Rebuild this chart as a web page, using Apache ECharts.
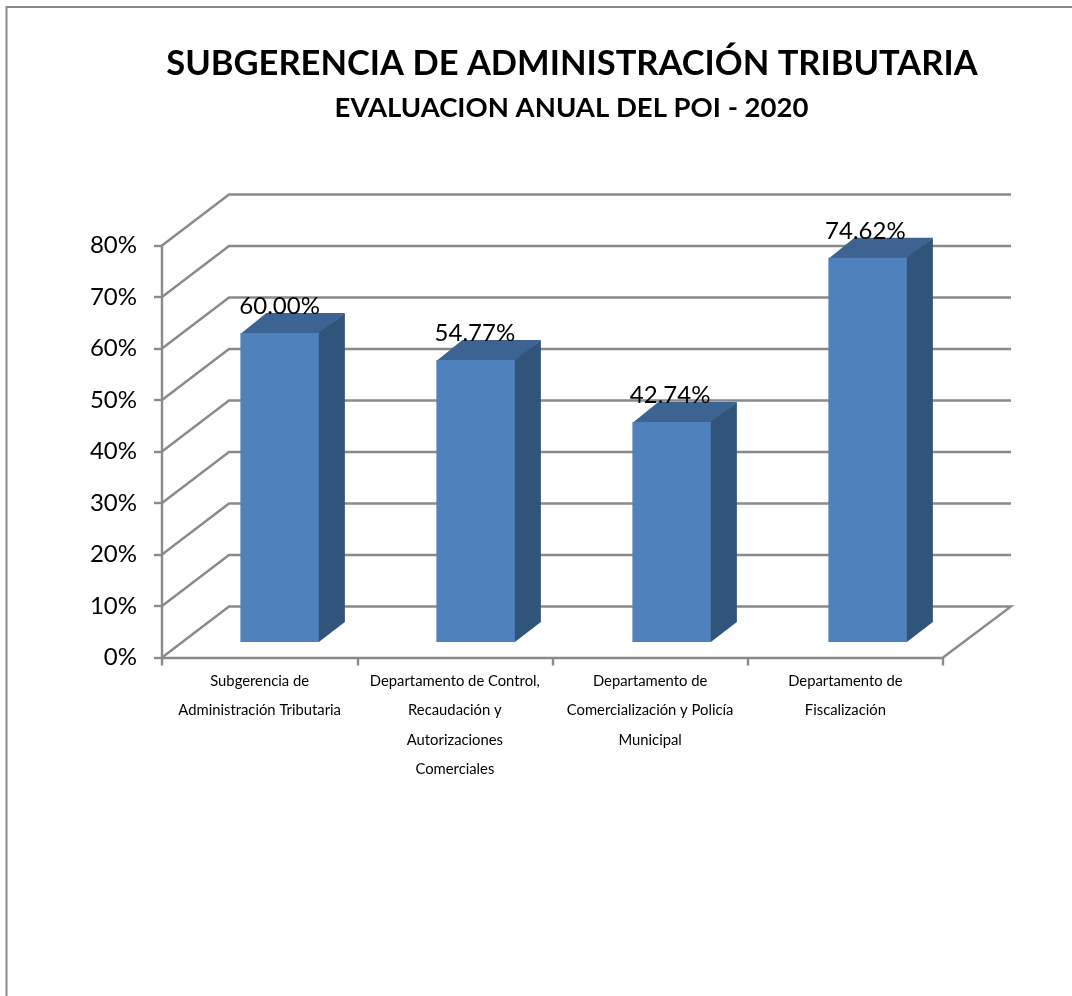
<!DOCTYPE html>
<html><head><meta charset="utf-8">
<style>html,body{margin:0;padding:0;background:#fff}#c{width:1072px;height:996px}</style>
<script src="https://cdn.jsdelivr.net/npm/echarts@6/dist/echarts.min.js"></script>
</head><body><div id="c"></div>
<script>
const titleText = 'SUBGERENCIA DE ADMINISTRACIÓN TRIBUTARIA';
const subtitleText = 'EVALUACION ANUAL DEL POI - 2020';
const categories = [
  'Subgerencia de\nAdministración Tributaria',
  'Departamento de Control,\nRecaudación y\nAutorizaciones\nComerciales',
  'Departamento de\nComercialización y Policía\nMunicipal',
  'Departamento de\nFiscalización'
];
const values = [60.00, 54.77, 42.74, 74.62];
const yTicks = [0, 10, 20, 30, 40, 50, 60, 70, 80];

const GREY = '#8a8a8a', FONT = 'Lato', LINE = 2.4;
const WALL_DX = 67, WALL_DY = 51, BAR_OFF_X = 20, BAR_STEP_X = 0.75, BAR_OFF_Y = 15.5, BAR_DX = 26, BAR_DY = 20, BAR_RATIO = 0.402;

const chart = echarts.init(document.getElementById('c'), null, {renderer: 'canvas'});
chart.setOption({
  animation: false,
  backgroundColor: '#fff',
  title: [
    {text: titleText, left: 567, top: 41, textAlign: 'center',
     textStyle: {fontFamily: FONT, fontWeight: 'bold', fontSize: 34.5, color: '#000'}},
    {text: subtitleText, left: 566.5, top: 89, textAlign: 'center',
     textStyle: {fontFamily: FONT, fontWeight: 'bold', fontSize: 27.5, color: '#000'}}
  ],
  graphic: [{type: 'polyline', shape: {points: [[1072, 7], [6.5, 7], [6.5, 996]]},
             style: {stroke: GREY, lineWidth: 2, fill: null}}],
  grid: {left: 162, top: 245.5, width: 781, height: 412},
  xAxis: {
    type: 'category', data: categories,
    axisLine: {lineStyle: {color: GREY, width: LINE}},
    axisTick: {show: true, length: 8, lineStyle: {color: GREY, width: LINE}},
    axisLabel: {fontFamily: FONT, fontSize: 14.8, color: '#000', lineHeight: 29.6, margin: 8.5, interval: 0, align: 'center'}
  },
  yAxis: {
    type: 'value', min: 0, max: 80, interval: 10,
    axisLine: {show: true, lineStyle: {color: GREY, width: LINE}},
    axisTick: {show: true, length: 8, lineStyle: {color: GREY, width: LINE}},
    splitLine: {show: false},
    axisLabel: {fontFamily: FONT, fontSize: 24, color: '#000', margin: 25, padding: [5, 0, 0, 0], formatter: '{value}%'}
  },
  series: [
    {
      type: 'custom', z: 1, silent: true, clip: false,
      data: yTicks.map(t => [0, t]),
      encode: {x: 0, y: 1},
      renderItem(params, api) {
        const cs = params.coordSys, v = api.value(1), y = api.coord([0, v])[1];
        const x0 = cs.x, x1 = cs.x + cs.width;
        const pts = [[x0, y], [x0 + WALL_DX, y - WALL_DY], [x1 + WALL_DX + 1, y - WALL_DY]];
        if (v === 0) pts.push([x1, y]);
        return {type: 'polyline', shape: {points: pts}, style: {stroke: GREY, lineWidth: LINE, fill: null}};
      }
    },
    {
      type: 'custom', z: 2, silent: true, clip: false,
      data: values.map((v, i) => [i, v]),
      encode: {x: 0, y: 1},
      renderItem(params, api) {
        const i = api.value(0), v = api.value(1);
        const top = api.coord([i, v]), base = api.coord([i, 0]);
        const w = api.size([1, 0])[0] * BAR_RATIO;
        const l = top[0] - w / 2 + BAR_OFF_X + i * BAR_STEP_X, r = l + w;
        const t = top[1] - BAR_OFF_Y, b = base[1] - BAR_OFF_Y;
        return {type: 'group', children: [
          {type: 'polygon', shape: {points: [[l, t + 1], [r, t + 1], [r + BAR_DX, t - BAR_DY], [l + BAR_DX, t - BAR_DY]]},
           style: {fill: '#3c6391'}},
          {type: 'polygon', shape: {points: [[r - 1, t], [r, t], [r + BAR_DX, t - BAR_DY], [r + BAR_DX, b - BAR_DY], [r, b], [r - 1, b]]},
           style: {fill: '#31547b'}},
          {type: 'rect', shape: {x: l, y: t, width: w, height: b - t}, style: {fill: '#4f81bd'}},
          {type: 'text', z2: 10, style: {x: top[0] + BAR_OFF_X, y: t - 26.5, text: v.toFixed(2) + '%', align: 'center', verticalAlign: 'middle',
            fontFamily: FONT, fontSize: 24, fill: '#000'}}
        ]};
      }
    }
  ]
});
</script></body></html>
